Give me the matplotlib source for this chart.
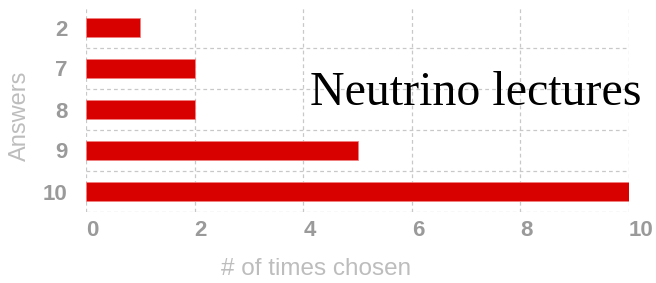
import numpy as np
import matplotlib.pyplot as plt

answers = ["2", "7", "8", "9", "10"]
counts = [1, 2, 2, 5, 10]
xticks = [0, 2, 4, 6, 8, 10]

BAR_RED = "#d90000"
GRID = "#c8c8c8"
TICK_GREY = "#9a9a9a"
LABEL_GREY = "#bdbdbd"

plt.rcParams["font.family"] = ["Liberation Sans", "DejaVu Sans"]

fig = plt.figure(figsize=(6.56, 2.83), dpi=100)
ax = fig.add_axes([86 / 656, 1 - 212 / 283, (629 - 86) / 656, (212 - 7) / 283])

ypos = np.arange(len(answers))
ax.barh(ypos, counts, height=0.45, color=BAR_RED, edgecolor="#f08080",
        linewidth=0.6, zorder=3)

ax.set_xlim(0, 10)
ax.set_ylim(len(answers) - 0.5, -0.5)

# dashed grid: vertical at ticks, horizontal between categories
for x in xticks:
    ax.axvline(x, color=GRID, linestyle=(0, (3, 2.5)), linewidth=0.9, zorder=1)
for y in np.arange(len(answers)) + 0.5:
    ax.axhline(y, color=GRID, linestyle=(0, (3, 2.5)), linewidth=0.9, zorder=1)

for s in ax.spines.values():
    s.set_visible(False)

ax.set_yticks(ypos)
ax.set_yticklabels(answers, fontsize=16, fontweight="bold", color=TICK_GREY)
ax.set_xticks(xticks)
ax.set_xticklabels([str(v) for v in xticks], fontsize=16, fontweight="bold",
                   color=TICK_GREY, ha="left")
ax.tick_params(axis="y", length=0, pad=13.5)
ax.tick_params(axis="x", length=0, pad=6)

ax.set_xlabel("# of times chosen", fontsize=17.5, color=LABEL_GREY)
ax.xaxis.set_label_coords((316 - 86) / (629 - 86), -(269 - 212) / (212 - 7))
ax.set_ylabel("Answers", fontsize=17, color=LABEL_GREY)
ax.yaxis.set_label_coords(-(86 - 20) / (629 - 86), 1 - (116 - 7) / (212 - 7))
ax.xaxis.label.set_va("center")
ax.yaxis.label.set_va("center")

fig.text(310 / 656, 1 - 105 / 283, "Neutrino lectures", fontsize=34.5,
         family=["Liberation Serif", "DejaVu Serif"], color="black",
         va="baseline", ha="left")

fig.savefig("out.png", dpi=100, facecolor="white")
